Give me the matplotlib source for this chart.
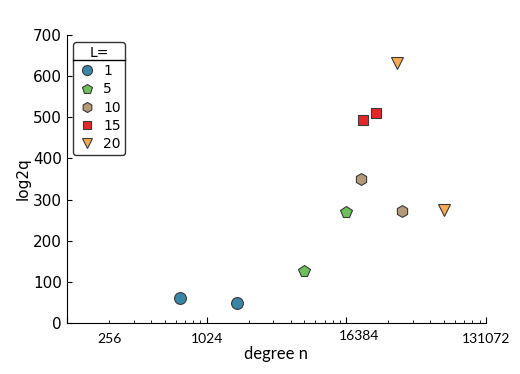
import matplotlib
matplotlib.use("Agg")
import matplotlib.pyplot as plt
from matplotlib.lines import Line2D
import matplotlib.transforms as mtransforms

# data
levels = ["1", "5", "10", "15", "20"]
degree = {
    "1": [640, 1660],
    "5": [5000, 10000],
    "10": [12700, 25100],
    "15": [13100, 16200],
    "20": [22900, 50100],
}
log2q = {
    "1": [61, 49],
    "5": [126, 270],
    "10": [349, 272],
    "15": [493, 510],
    "20": [633, 275],
}
markers = {"1": "o", "5": "p", "10": "h", "15": "s", "20": "v"}
colors = {"1": "#3a86a6", "5": "#6dbf5c", "10": "#b39b78", "15": "#e6262b", "20": "#f7aa52"}

# x tick labels and where they sit on the axis
xlabel_pos = [200, 1000, 12400, 100000]
xlabel_txt = ["256", "1024", "16384", "131072"]

fig = plt.figure(figsize=(5.2, 3.74), dpi=100)
ax = fig.add_axes([0.1288, 0.1364, 0.8058, 0.77])

for L in levels:
    ax.plot(degree[L], log2q[L], linestyle="none", marker=markers[L],
            markersize=8.5 if markers[L] != "s" else 7.5,
            markerfacecolor=colors[L], markeredgecolor="#3a3a3a",
            markeredgewidth=0.8, label=L)

ax.set_xscale("log")
ax.set_xlim(100, 100000)
ax.set_ylim(0, 700)
ax.set_yticks(range(0, 701, 100))

for s in ["top", "right"]:
    ax.spines[s].set_visible(False)
ax.tick_params(direction="in", which="both", top=False, right=False)
ax.tick_params(axis="y", labelsize=11)
ax.tick_params(axis="x", which="major", length=4)
ax.xaxis.set_major_formatter(plt.NullFormatter())
ax.xaxis.set_minor_formatter(plt.NullFormatter())

trans = mtransforms.blended_transform_factory(ax.transData, ax.transAxes)
for xp, t in zip(xlabel_pos, xlabel_txt):
    yoff = -0.045 if t == "16384" else -0.057
    ax.text(xp, yoff, t, transform=trans, ha="center", va="center",
            fontsize=10, family="Lato")

ax.set_xlabel("degree n", family="Lato", fontsize=12, labelpad=13)
ax.set_ylabel("log2q", fontsize=11, labelpad=2)

leg = ax.legend(title="L=", loc="upper left", bbox_to_anchor=(0.014, 0.976),
                borderaxespad=0, fontsize=10, title_fontsize=10, frameon=True,
                fancybox=True, edgecolor="black", handletextpad=0.5,
                borderpad=0.3, labelspacing=0.3, handlelength=1.4,
                markerscale=0.85)
leg.get_frame().set_linewidth(1.0)

# separator line under the legend title
fig.canvas.draw()
bb = leg.get_window_extent()
inv = fig.transFigure.inverted()
x0, _ = inv.transform((bb.x0, 0))
x1, _ = inv.transform((bb.x1, 0))
_, ysep = inv.transform((0, bb.y1 - 18))
fig.add_artist(Line2D([x0, x1], [ysep, ysep], color="black", linewidth=1.0,
                      transform=fig.transFigure))

fig.savefig("out.png", dpi=100)
